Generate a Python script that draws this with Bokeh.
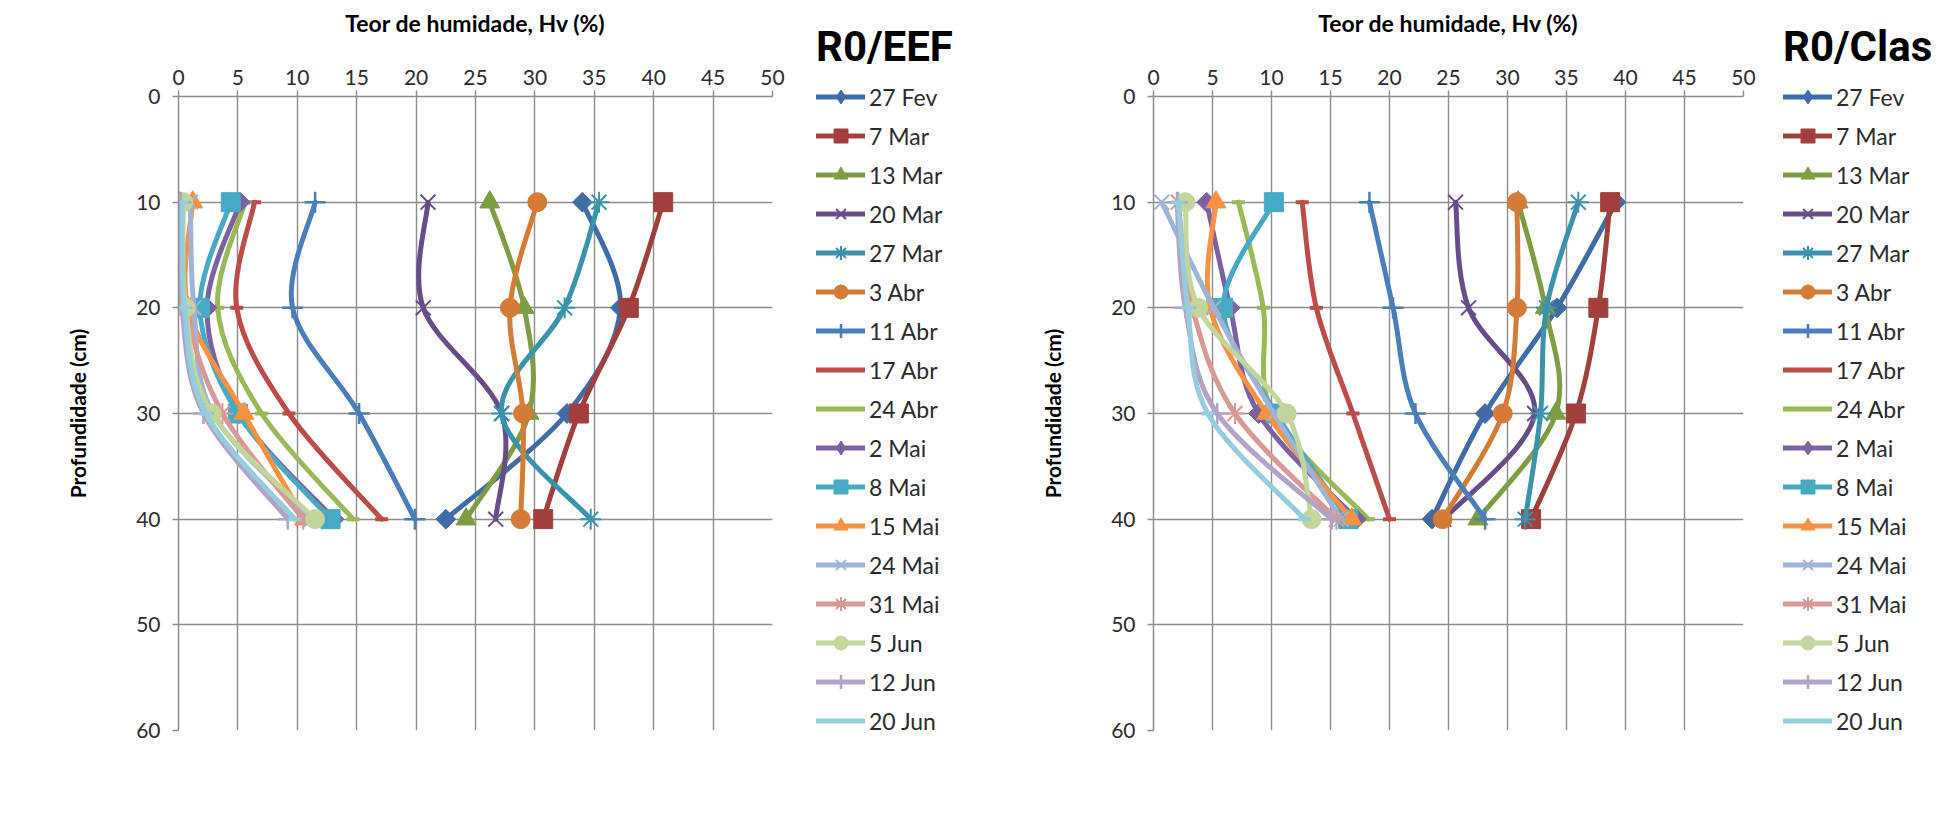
import numpy as np
from bokeh.plotting import figure
from bokeh.models import Range1d, FixedTicker, Legend, LegendItem
from bokeh.layouts import row
from bokeh.embed import file_html
from bokeh.resources import INLINE

# ---------------- data ----------------
dates = ["27 Fev", "7 Mar", "13 Mar", "20 Mar", "27 Mar", "3 Abr", "11 Abr",
         "17 Abr", "24 Abr", "2 Mai", "8 Mai", "15 Mai", "24 Mai", "31 Mai",
         "5 Jun", "12 Jun", "20 Jun"]
depths = [10, 20, 30, 40]
x_ticks = [0, 5, 10, 15, 20, 25, 30, 35, 40, 45, 50]
y_ticks = [0, 10, 20, 30, 40, 50, 60]

# R0/EEF  moisture (%) per date at each depth
eef_10 = [34.0, 40.8, 26.2, 21.0, 35.4, 30.2, 11.5, 6.4, 5.6, 5.2, 4.4, 1.2, 1.0, 0.1, 0.4, 0.2, 0.3]
eef_20 = [37.2, 37.9, 29.1, 20.6, 32.5, 27.9, 9.6, 4.9, 3.3, 2.4, 1.8, 0.8, 1.3, 0.6, 0.6, 0.3, 0.5]
eef_30 = [32.7, 33.7, 29.5, 27.2, 27.2, 29.0, 15.2, 9.3, 7.0, 5.1, 5.0, 5.5, 2.9, 3.7, 2.8, 2.1, 2.3]
eef_40 = [22.5, 30.7, 24.2, 26.7, 34.7, 28.8, 19.9, 17.1, 14.7, 13.1, 12.8, 10.6, 11.2, 10.5, 11.5, 9.2, 9.8]

# R0/Clas moisture (%) per date at each depth
clas_10 = [39.2, 38.7, 30.9, 25.6, 36.0, 30.8, 18.3, 12.6, 7.2, 4.5, 10.2, 5.3, 0.7, 2.1, 2.7, 2.0, 2.1]
clas_20 = [34.2, 37.7, 33.2, 26.7, 33.3, 30.8, 20.3, 13.8, 9.3, 6.5, 5.9, 4.8, 5.1, 3.3, 3.8, 2.7, 2.9]
clas_30 = [28.1, 35.8, 34.1, 32.3, 32.8, 29.6, 22.2, 16.9, 10.1, 8.9, 10.4, 9.6, 10.2, 6.9, 11.3, 5.4, 4.6]
clas_40 = [23.6, 32.0, 27.5, 24.6, 31.5, 24.5, 28.1, 20.0, 18.2, 17.2, 16.5, 16.8, 15.9, 15.5, 13.4, 15.1, 12.8]

# ---------------- styles ----------------
colors = ["#3F6CA6", "#A23F3C", "#7E9D43", "#684C8A", "#3A93AC", "#D67B35",
          "#4A7EBB", "#BE4B48", "#98B954", "#7D60A0", "#46AAC5", "#F69240",
          "#9FB3D9", "#D99895", "#C2D69A", "#B2A2C7", "#94CDDD"]
markers = ["diamond", "square", "triangle", "x", "asterisk", "circle", "cross",
           "dash", "dash", "diamond", "square", "triangle", "x", "asterisk",
           "circle", "cross", "dash"]
# in the plot the diamond is drawn as a rotated square (Excel style)
mshape = {"diamond": "square", "square": "square", "triangle": "triangle",
          "x": "x", "asterisk": "asterisk", "circle": "circle",
          "cross": "cross", "dash": "dash"}
mangle = {"diamond": np.pi / 4}
msize = {"diamond": 14, "square": 19, "triangle": 20, "x": 21, "asterisk": 21,
         "circle": 19, "cross": 21, "dash": 13}
mline = {"diamond": 1, "square": 1, "triangle": 1, "x": 2, "asterisk": 2,
         "circle": 1, "cross": 2.5, "dash": 4}

GRID = "#8c8c8c"
TXT = "#2b2b2b"
LW = 5
FRAME_H = 634
TOP = 96
BOTTOM = 60
LEG_W = 181
ITEM_H = 35
ITEM_GAP = 4
FIRST_ITEM_TOP = 79   # page y of the first legend row's top edge


def bezier_parts(xs, ys):
    x = np.asarray(xs, float)
    y = np.asarray(ys, float)
    n = len(x)
    xp = np.concatenate([[x[0]], x, [x[-1]]])
    yp = np.concatenate([[y[0]], y, [y[-1]]])
    cx0 = x[:-1] + (xp[2:n + 1] - xp[0:n - 1]) / 6.0
    cy0 = y[:-1] + (yp[2:n + 1] - yp[0:n - 1]) / 6.0
    cx1 = x[1:] - (xp[3:n + 2] - xp[1:n]) / 6.0
    cy1 = y[1:] - (yp[3:n + 2] - yp[1:n]) / 6.0
    return dict(x0=x[:-1], y0=y[:-1], x1=x[1:], y1=y[1:],
                cx0=cx0, cy0=cy0, cx1=cx1, cy1=cy1)


def make_chart(cols, frame_w, border_l):
    p = figure(frame_width=frame_w, frame_height=FRAME_H,
               min_border_left=border_l, min_border_right=30,
               min_border_top=TOP, min_border_bottom=BOTTOM,
               x_range=Range1d(0, 50), y_range=Range1d(60, 0),
               x_axis_location="above",
               output_backend="svg", toolbar_location=None)
    p.outline_line_color = None
    p.background_fill_color = "white"
    p.border_fill_color = "white"

    p.xaxis.ticker = FixedTicker(ticks=x_ticks)
    p.yaxis.ticker = FixedTicker(ticks=y_ticks)
    for ax in (p.xaxis, p.yaxis):
        ax.axis_line_color = GRID
        ax.axis_line_width = 1.5
        ax.major_tick_line_color = GRID
        ax.major_tick_line_width = 1.5
        ax.major_tick_out = 6
        ax.major_tick_in = 0
        ax.minor_tick_out = 0
        ax.minor_tick_in = 0
        ax.major_label_text_font = "Lato"
        ax.major_label_text_font_size = "21px"
        ax.major_label_text_color = TXT
        ax.axis_label_text_font = "Lato"
        ax.axis_label_text_font_style = "bold"
        ax.axis_label_text_color = "black"
    p.xaxis.major_label_standoff = 6
    p.yaxis.major_label_standoff = 12
    p.xaxis.axis_label = "Teor de humidade, Hv (%)"
    p.xaxis.axis_label_text_font_size = "23px"
    p.xaxis.axis_label_standoff = 30
    p.yaxis.axis_label = "Profundidade (cm)"
    p.yaxis.axis_label_text_font_size = "21px"
    p.yaxis.axis_label_standoff = 43
    p.grid.grid_line_color = GRID
    p.grid.grid_line_width = 1.4

    for i, d in enumerate(dates):
        xs = [cols[k][i] for k in range(4)]
        p.bezier(line_color=colors[i], line_width=LW, line_cap="round",
                 **bezier_parts(xs, depths))
        m = markers[i]
        p.scatter(xs, depths, marker=mshape[m], size=msize[m],
                  angle=mangle.get(m, 0.0),
                  fill_color=colors[i], line_color=colors[i],
                  line_width=mline[m])
    return p


def make_legend(cols, title, glyph_x):
    lf = figure(width=LEG_W, frame_height=FRAME_H,
                min_border_left=0, min_border_right=0,
                min_border_top=TOP, min_border_bottom=BOTTOM,
                x_range=Range1d(0, 1), y_range=Range1d(0, 1),
                x_axis_type=None, y_axis_type=None,
                output_backend="svg", toolbar_location=None)
    lf.outline_line_color = None
    lf.background_fill_color = "white"
    lf.border_fill_color = "white"
    items = []
    for i, d in enumerate(dates):
        xs = [cols[k][i] for k in range(4)]
        bz = lf.bezier(line_color=colors[i], line_width=LW, line_cap="round",
                       visible=False, **bezier_parts(xs, depths))
        m = markers[i]
        sc = lf.scatter(xs, depths, marker=m, size=msize[m],
                        fill_color=colors[i], line_color=colors[i],
                        line_width=mline[m], visible=False)
        items.append(LegendItem(label=d, renderers=[bz, sc]))
    n = len(dates)
    items_h = n * ITEM_H + (n - 1) * ITEM_GAP
    # offset measured up from the bottom of the side panel (= frame bottom)
    vy = (TOP + FRAME_H) - items_h - FIRST_ITEM_TOP
    leg = Legend(items=items, location=(glyph_x, vy),
                 title=title, title_text_font="Roboto",
                 title_text_font_style="bold", title_text_font_size="42px",
                 title_text_color="black", title_standoff=8,
                 glyph_width=49, glyph_height=ITEM_H, spacing=ITEM_GAP,
                 padding=0, margin=0, label_standoff=4, ncols=1,
                 label_text_font="Lato", label_text_font_size="23px",
                 label_text_color=TXT, click_policy="none",
                 border_line_color=None, background_fill_alpha=0)
    lf.add_layout(leg, "left")
    return lf


cols_eef = [eef_10, eef_20, eef_30, eef_40]
cols_clas = [clas_10, clas_20, clas_30, clas_40]

p1 = make_chart(cols_eef, 594, 178)
l1 = make_legend(cols_eef, "R0/EEF", 14)
p2 = make_chart(cols_clas, 590, 170)
l2 = make_legend(cols_clas, "R0/Clas", 10)

layout = row(p1, l1, p2, l2)
open("out.html", "w").write(file_html(layout, INLINE))
